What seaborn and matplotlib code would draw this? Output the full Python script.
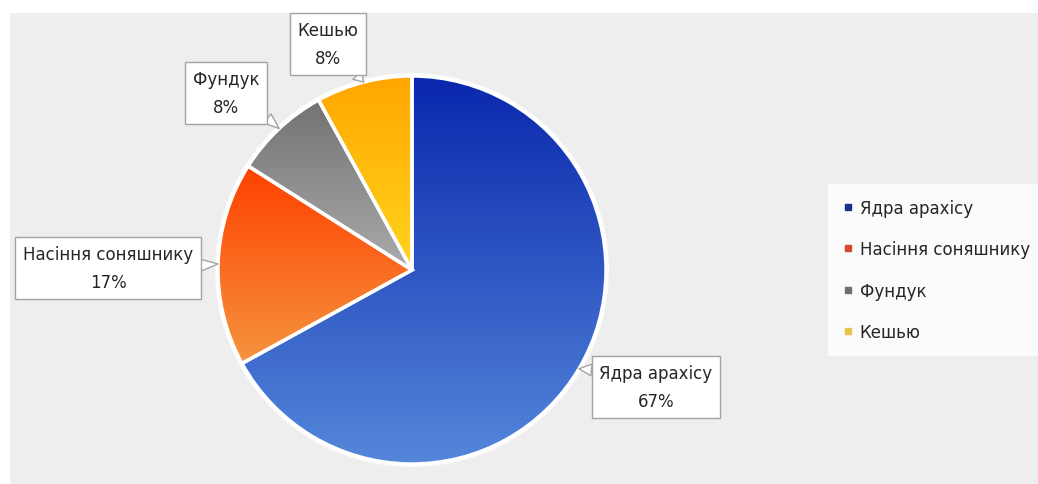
import numpy as np
import matplotlib
matplotlib.use("Agg")
import matplotlib.pyplot as plt
import seaborn as sns
from matplotlib.patches import Rectangle, Circle
from matplotlib.lines import Line2D
from matplotlib.colors import LinearSegmentedColormap

# Data
categories = ["Ядра арахісу", "Насіння соняшнику", "Фундук", "Кешью"]
shares = [67, 17, 8, 8]

# Styling: each slice is shaded from a top colour to a bottom colour
top_colors = ["#0a27ad", "#ff4000", "#727272", "#ffa600"]
bottom_colors = ["#5487da", "#f5943f", "#ababab", "#ffd51c"]
legend_colors = ["#1b2f8c", "#d8482c", "#6f6f6f", "#e6c54a"]

sns.set_theme(style="white")
plt.rcParams["font.family"] = ["DejaVu Sans"]

W, H = 1038, 485
fig = plt.figure(figsize=(W / 100, H / 100), dpi=100)
fig.patch.set_facecolor("white")
ax = fig.add_axes([0, 0, 1, 1])

# light grey chart area
ax.add_patch(Rectangle((10, 0), W - 10, H - 14, facecolor="#eeeeee",
                       edgecolor="none", zorder=0))

cx, cy, r = 412, H - 271, 194

# soft white rim around the pie
ax.add_patch(Circle((cx, cy), r + 3, facecolor="white", edgecolor="none",
                    alpha=0.85, zorder=1))

wedges, _ = ax.pie(shares, startangle=90, counterclock=False,
                   center=(cx, cy), radius=r, colors=top_colors,
                   wedgeprops=dict(edgecolor="white", linewidth=2.5))

grad = np.linspace(0, 1, 256).reshape(-1, 1)
for w, c0, c1 in zip(wedges, top_colors, bottom_colors):
    path = w.get_patch_transform().transform_path(w.get_path())
    ext = path.get_extents()
    cmap = LinearSegmentedColormap.from_list("g", [c0, c1])
    im = ax.imshow(grad, cmap=cmap, aspect="auto", origin="upper",
                   extent=(ext.x0, ext.x1, ext.y0, ext.y1), zorder=2,
                   interpolation="bilinear")
    im.set_clip_path(w)
    w.set_facecolor("none")
    w.set_zorder(3)

# callout labels
label_pos = [(656, 388), (108, 269), (226, 94), (328, 45)]
rel_pos = [(0.0, 0.85), (1.0, 0.55), (1.0, 0.1), (0.85, 0.0)]
total = sum(shares)
for w, name, val, (tx, ty), rp in zip(wedges, categories, shares,
                                      label_pos, rel_pos):
    mid = np.deg2rad((w.theta1 + w.theta2) / 2)
    ex, ey = cx + r * np.cos(mid), cy + r * np.sin(mid)
    ax.annotate(f"{name}\n{round(100 * val / total)}%",
                xy=(ex, ey), xytext=(tx, H - ty),
                ha="center", va="center", fontsize=12, color="#262626",
                linespacing=1.75, zorder=5,
                bbox=dict(boxstyle="square,pad=0.45", facecolor="white",
                          edgecolor="#a3a3a3", linewidth=1),
                arrowprops=dict(arrowstyle="wedge,tail_width=0.7,shrink_factor=0.5",
                                facecolor="white", edgecolor="#a3a3a3",
                                linewidth=1, relpos=rp, shrinkA=0, shrinkB=0))

ax.set_xlim(0, W)
ax.set_ylim(0, H)
ax.set_aspect("equal")
ax.axis("off")

handles = [Line2D([], [], marker="s", linestyle="none", color=c,
                  markersize=5) for c in legend_colors]
leg = fig.legend(handles, categories, loc="upper left",
                 bbox_to_anchor=(828 / W, 1 - 185 / H), frameon=True,
                 fontsize=12, labelspacing=1.4, handlelength=0.6,
                 handletextpad=0.4, borderpad=0.9, borderaxespad=0,
                 fancybox=False, labelcolor="#262626")
leg.get_frame().set_facecolor("white")
leg.get_frame().set_edgecolor("none")

fig.savefig("out.png", dpi=100, facecolor="white")
